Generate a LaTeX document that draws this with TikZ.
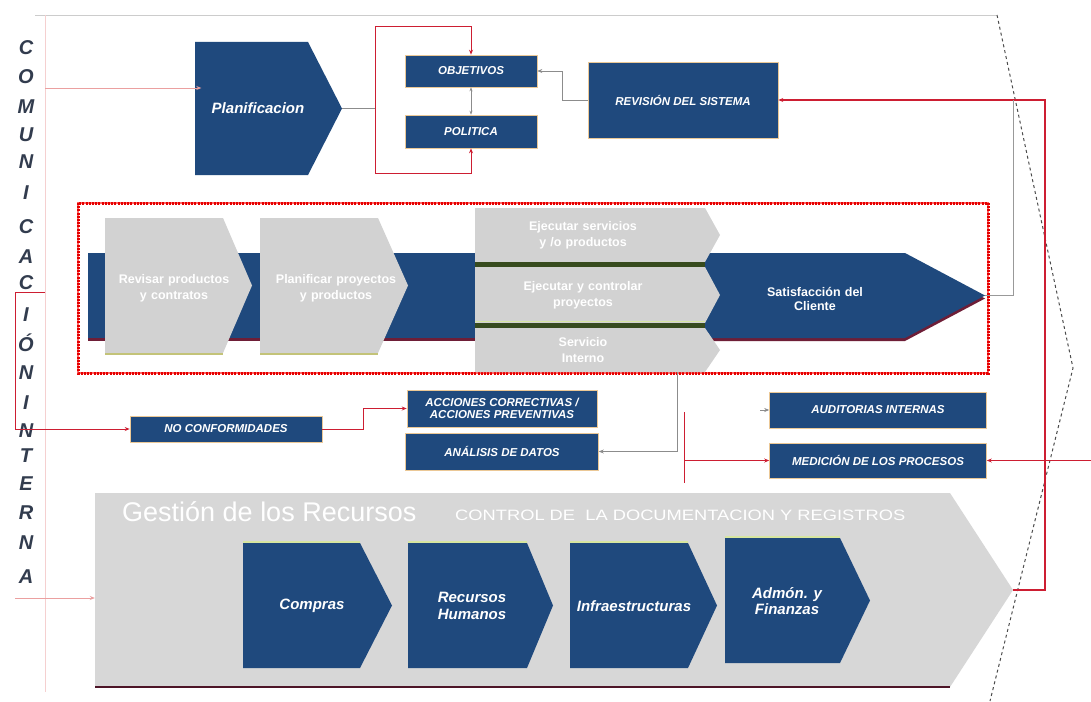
\documentclass[tikz,border=0pt]{standalone}
\usepackage{fontspec}
\setmainfont{Liberation Sans}
\usetikzlibrary{arrows.meta}
\pgfdeclarelayer{bg}
\pgfsetlayers{bg,main}
\definecolor{dblue}{RGB}{31,73,125}
\definecolor{lgray}{RGB}{210,210,210}
\definecolor{ggray}{RGB}{215,215,215}
\definecolor{redm}{RGB}{205,30,50}
\definecolor{pinkl}{RGB}{235,160,160}
\definecolor{maroonc}{RGB}{110,30,55}
\definecolor{dgreen}{RGB}{55,75,30}
\definecolor{olivec}{RGB}{195,195,120}
\definecolor{lgreen}{RGB}{215,230,160}
\definecolor{lettc}{RGB}{50,60,78}
\definecolor{boxedge}{RGB}{235,200,150}
\newcommand\pent[5]{(#1,#2)--(#3,#2)--(#4,{(#2+#5)/2})--(#3,#5)--(#1,#5)--cycle}
\tikzset{
  x=1pt, y=-1pt,
  tip/.style={-{Stealth[length=5pt,width=4pt]}},
  redmain/.style={draw=redm, line width=1.3pt},
  redthin/.style={draw=redm, line width=1pt},
  pinkline/.style={draw=pinkl, line width=0.7pt},
  graythin/.style={draw=black!45, line width=0.6pt},
  lett/.style={text=lettc, font=\bfseries\itshape\fontsize{20}{20}\selectfont, inner sep=0pt},
  body/.style={inner sep=0pt, align=center, text=white},
  bx/.style={fill=dblue, draw=boxedge, line width=0.6pt, text=white, inner sep=0pt, align=center,
    font=\bfseries\itshape\fontsize{11.5}{12.5}\selectfont},
  gtxt/.style={body, font=\bfseries\fontsize{12.5}{14}\selectfont},
  btxt/.style={body, font=\bfseries\itshape\fontsize{15}{16.5}\selectfont},
  redframe/.style={draw=red!90!black, line width=3pt, dash pattern=on 2pt off 1.2pt},
}
\begin{document}
\begin{tikzpicture}
\useasboundingbox (0,0) rectangle (1091,701);
\fill[white] (0,0) rectangle (1091,701);

% faint frame lines
\draw[black!20, line width=0.6pt] (35,15) -- (997,15);
\draw[pinkl!50, line width=0.5pt] (45,15) -- (45,692);
\draw[dashed, black!70, line width=1pt] (997,15) -- (1073,368) -- (990,701);

% vertical word
\foreach \ch/\yy [count=\i] in {C/48,O/77,M/107,U/135,N/162,I/193,C/227,A/257,C/283,I/315,Ó/343,N/373,I/403,N/431,T/456,E/484,R/513,N/543,A/577}
  \node[lett] (l\i) at (26,\yy) {\ch};

% ---------- top row ----------
\fill[dblue] \pent{195}{42}{308}{342}{175};
\node[btxt, minimum width=113pt, minimum height=133pt] (plan) at (258,108.5) {Planificacion};
\coordinate (ptip) at (342,108.5);

\node[bx, minimum width=132pt, minimum height=32pt] (obj) at (471,71) {OBJETIVOS};
\node[bx, minimum width=132pt, minimum height=33pt] (pol) at (471,131.5) {POLITICA};
\node[bx, minimum width=190pt, minimum height=76pt] (rev) at (683,100) {REVISIÓN DEL SISTEMA};

% ---------- central band ----------
\draw[red!60, line width=1.6pt] (78,203) rectangle (988,373);
\draw[redframe] (78,203) rectangle (988,373);
\fill[maroonc] (88,256) rectangle (720,341);
\fill[maroonc] \pent{705}{256}{905}{985}{341};
\fill[dblue] (88,253) rectangle (720,338);
\fill[dblue] \pent{705}{253}{905}{985}{338};
\node[gtxt, text width=120pt] (sat) at (815,299) {Satisfacción del\\Cliente};
\coordinate (stip) at (985,295.5);

\fill[lgray] \pent{105}{218}{223}{252}{353};
\draw[olivec, line width=2pt] (105,354) -- (223,354);
\node[gtxt, font=\bfseries\fontsize{12.5}{16}\selectfont, text width=160pt] (a1) at (174,288) {Revisar productos\\y contratos};
\fill[lgray] \pent{260}{218}{378}{408}{353};
\draw[olivec, line width=2pt] (260,354) -- (378,354);
\node[gtxt, font=\bfseries\fontsize{12.5}{16}\selectfont, text width=160pt] (a2) at (336,288) {Planificar proyectos\\y productos};

\fill[lgray] \pent{475}{208}{705}{720}{262};
\fill[lgray] \pent{475}{267}{705}{720}{323};
\fill[lgray] \pent{475}{328}{705}{720}{372};
\fill[dgreen] (475,262) rectangle (705,267);
\fill[dgreen] (475,323) rectangle (705,328);
\draw[lgreen, line width=1pt] (475,321.5) -- (705,321.5);
\node[gtxt, font=\bfseries\fontsize{12.5}{16}\selectfont, text width=200pt] (s1) at (583,235) {Ejecutar servicios\\y /o productos};
\node[gtxt, font=\bfseries\fontsize{12.5}{16}\selectfont, text width=200pt] (s2) at (583,295) {Ejecutar y controlar\\proyectos};
\node[gtxt, font=\bfseries\fontsize{12.5}{16}\selectfont, text width=200pt] (s3) at (583,350) {Servicio\\Interno};
\coordinate (s3b) at (677,372);

% ---------- middle boxes ----------
\node[bx, minimum width=192pt, minimum height=26pt] (nc) at (226,429) {NO CONFORMIDADES};
\node[bx, minimum width=190pt, minimum height=37pt] (acc) at (502,408.5) {ACCIONES CORRECTIVAS /\\ACCIONES PREVENTIVAS};
\node[bx, minimum width=193pt, minimum height=37pt] (ana) at (502,451.5) {ANÁLISIS DE DATOS};
\node[bx, minimum width=217pt, minimum height=36pt] (aud) at (878,410) {AUDITORIAS INTERNAS};
\node[bx, minimum width=217pt, minimum height=35pt] (med) at (878,460.5) {MEDICIÓN DE LOS PROCESOS};

% ---------- resources ----------
\fill[ggray] \pent{95}{493}{950}{1013}{687};
\draw[maroonc!70!black, line width=1.5pt] (95,687) -- (950,687);
\node[inner sep=0pt, minimum width=855pt, minimum height=194pt] (gest) at (522.5,590) {};
\coordinate (gtip) at (1013,590);
\node[anchor=west, text=white, inner sep=0pt, font=\fontsize{27}{28}\selectfont] (gtitle) at (122,512) {Gestión de los Recursos};
\node[anchor=west, text=white, inner sep=0pt, font=\fontsize{15}{16}\selectfont] (ctrl) at (455,515) {\scalebox{1.22}[1]{CONTROL DE\ \ LA DOCUMENTACION Y REGISTROS}};

\foreach \xa/\xr/\xt/\ya/\yb in {243/360/392/543/668, 408/527/553/543/668, 570/688/717/543/668, 725/840/870/538/663}{
  \fill[dblue] \pent{\xa}{\ya}{\xr}{\xt}{\yb};
  \draw[lgreen, line width=1.2pt] (\xa,\ya-1) -- (\xr,\ya-1);
}
\node[btxt] (comp) at (312,606) {Compras};
\node[btxt, align=center] (rh) at (472,606) {Recursos\\Humanos};
\node[btxt] (inf) at (634,606) {Infraestructuras};
\node[btxt, align=center] (adm) at (787,601) {Admón. y\\Finanzas};

% ---------- connectors ----------
\coordinate (c1) at (45,88);
\draw[pinkline, tip] (c1) -- (c1 -| plan.west);
\coordinate (c2) at (15,598);
\draw[pinkline, tip] (c2) -- (c2 -| gest.west);
\coordinate (c3) at (45,292);
\draw[redthin, tip] (c3) -- (15,292) |- (nc.west);
\draw[redthin, tip] (nc.east) -- (363,429) |- (acc.west);

\draw[graythin] (ptip) -- (375,108.5);
\coordinate (bt) at (375,27);
\coordinate (bb) at (375,173);
\draw[redthin, tip] (bb) -- (bt) -| (obj.north);
\draw[redthin, tip] (bb) -| (pol.south);
\draw[graythin, {Stealth[length=4pt,width=3pt]}-{Stealth[length=4pt,width=3pt]}] (obj.south) -- (pol.north);
\draw[graythin, tip] (rev.west) -- (562,100) |- (obj.east);

\draw[redmain, tip] (gtip) -- (1045,590) |- (rev.east);
\draw[black!40, line width=0.8pt] (stip) -- (1013,295.5) -- (1013,100);

\draw[graythin, tip] (s3b) |- (ana.east);
\coordinate (j1) at (684,412);
\coordinate (j2) at (684,483);
\coordinate (j3) at (684,460.5);
\draw[redthin] (j1) -- (j2);
\begin{pgfonlayer}{bg}
\draw[redthin, tip] (j2) -| (acc.south);
\end{pgfonlayer}
\draw[redmain, tip] (j3) -- (med.west);
\coordinate (rin) at (1091,460.5);
\draw[redmain, tip] (rin) -- (med.east);
\coordinate (ain) at (760,410);
\draw[graythin, tip] (ain) -- (aud.west);
\end{tikzpicture}
\end{document}
